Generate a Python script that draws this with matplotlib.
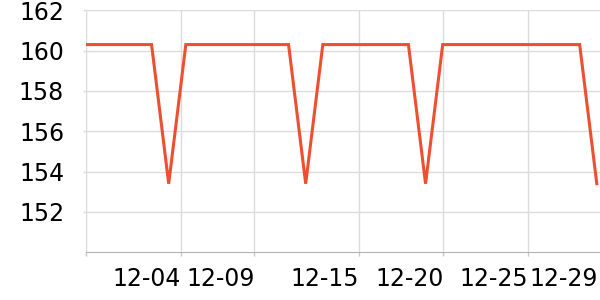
import matplotlib
matplotlib.use("Agg")
import matplotlib.pyplot as plt
import pandas as pd

# data
dates = pd.date_range("2023-11-28", "2023-12-29", freq="D")
dip_days = ["2023-12-04", "2023-12-12", "2023-12-19", "2023-12-29"]
high_value = 160.3
low_value = 153.4
values = [low_value if d.strftime("%Y-%m-%d") in dip_days else high_value for d in dates]

tick_times = ["2023-12-04 17:40", "2023-12-09 00:00", "2023-12-15 03:10",
              "2023-12-20 01:00", "2023-12-25 00:00", "2023-12-29 02:00"]
tick_labels = ["12-04", "12-09", "12-15", "12-20", "12-25", "12-29"]
yticks = [152, 154, 156, 158, 160, 162]

fig = plt.figure(figsize=(6, 3), dpi=100)
ax = fig.add_axes([85.7/600, (300-252.3)/300, (600-85.7)/600, (252.3-10.3)/300])

ax.plot(dates, values, color="#ef4f31", lw=2.2, solid_joinstyle="miter", zorder=3)

x0 = pd.Timestamp("2023-11-29 03:40")
x1 = pd.Timestamp("2023-12-29 04:30")
ax.set_xlim(x0, x1)
ax.set_ylim(150, 162)

tpos = [x0] + [pd.Timestamp(t) for t in tick_times]
ax.set_xticks(tpos)
ax.set_xticklabels([""] + tick_labels, ha="right")
ax.set_yticks(yticks)
ax.set_yticklabels([str(v) for v in yticks])

ax.grid(True, color="#dcdcdc", lw=1)
ax.set_axisbelow(True)
for s in ["top", "right"]:
    ax.spines[s].set_visible(False)
ax.spines["left"].set_color("#dcdcdc")
ax.spines["bottom"].set_color("#b4b4b4")
ax.tick_params(axis="x", colors="#c8c8c8", length=3, width=1, pad=7.5, labelsize=17, labelcolor="black")
ax.tick_params(axis="y", colors="#dcdcdc", length=2.5, width=1, pad=13, labelsize=17, labelcolor="black")

# hide gridline and tick mark at the right edge
xt = ax.xaxis.get_major_ticks()
xt[-1].gridline.set_visible(False)
xt[-1].tick1line.set_visible(False)

fig.savefig("out.png", dpi=100)
